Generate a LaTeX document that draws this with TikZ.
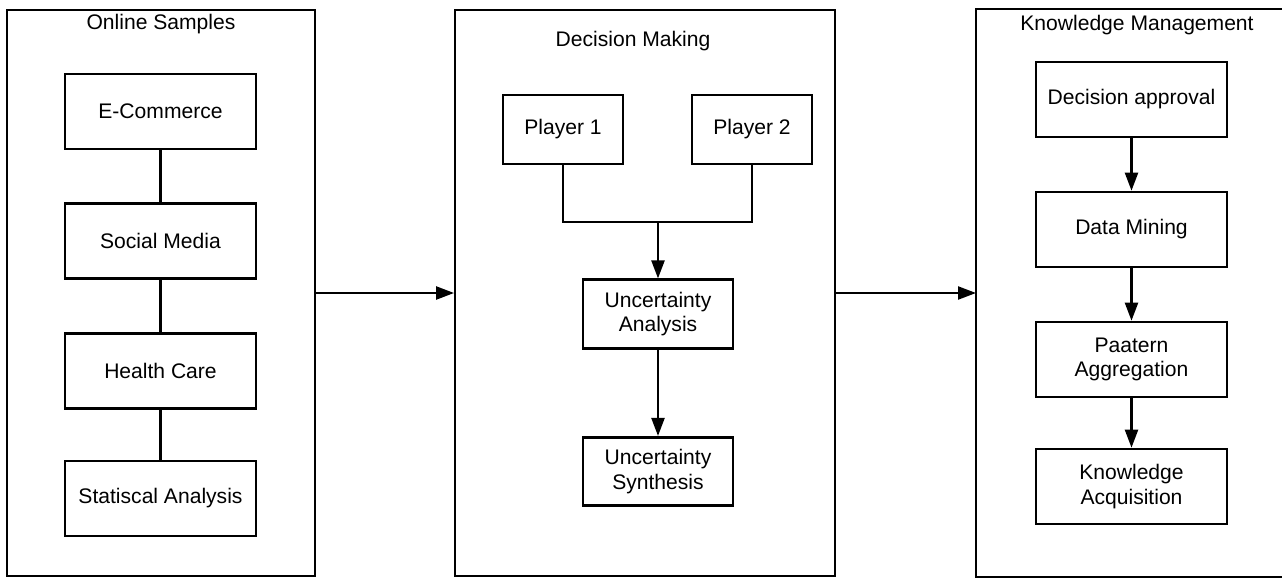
\documentclass[tikz,border=0pt]{standalone}
\usepackage{fontspec}
\setmainfont{Liberation Sans}
\usetikzlibrary{arrows.meta}
\begin{document}
\begin{tikzpicture}[x=0.02cm,y=-0.02cm,
  every node/.style={font=\fontsize{12}{13.8}\selectfont},
  container/.style={draw, line width=1.1pt},
  box/.style={draw, line width=1.5pt, rectangle, align=center, inner sep=0pt},
  wide/.style={box, minimum width=3.82cm, minimum height=1.5cm},
  small/.style={box, minimum width=2.4cm, minimum height=1.38cm},
  mid/.style={box, minimum width=3.0cm, minimum height=1.37cm},
  link/.style={line width=1.2pt},
  arr/.style={line width=1.3pt, -{Triangle[length=0.36cm,width=0.26cm]}},
  title/.style={inner sep=0pt}
]
\useasboundingbox (0,0) rectangle (1282,578);
% containers
\node[container, minimum width=6.16cm, minimum height=11.32cm, inner sep=0pt] (c1) at (161,293) {};
\node[container, minimum width=7.6cm, minimum height=11.32cm, inner sep=0pt] (c2) at (645,293) {};
\draw[container] (1295,9) -- (976,9) -- (976,577) -- (1295,577);
\coordinate (c3w) at (976,293);
% titles
\node[title] (t1) at (161,24) {Online Samples};
\node[title] (t2) at (633,41) {Decision Making};
\node[title] (t3) at (1137,25) {Knowledge Management};
% left column
\node[wide] (ec) at (160.5,111.5) {E-Commerce};
\node[wide] (sm) at (160.5,241) {Social Media};
\node[wide] (hc) at (160.5,371) {Health Care};
\node[wide] (sa) at (160.5,498.5) {Statiscal Analysis};
\draw[link] (ec) -- (sm);
\draw[link] (sm) -- (hc);
\draw[link] (hc) -- (sa);
% middle column
\node[small] (p1) at (563,129.5) {Player 1};
\node[small] (p2) at (752,129.5) {Player 2};
\node[mid] (ua) at (658,314) {Uncertainty\\Analysis};
\node[mid] (us) at (658,471.5) {Uncertainty\\Synthesis};
\coordinate (j) at (658,222);
\draw[link] (p1.south) |- (j) -| (p2.south);
\draw[arr] (j) -- (ua.north);
\draw[arr] (ua) -- (us);
% right column
\node[wide] (da) at (1131.5,99.5) {Decision approval};
\node[wide] (dm) at (1131.5,229.5) {Data Mining};
\node[wide] (pa) at (1131.5,359.5) {Paatern\\Aggregation};
\node[wide] (ka) at (1131.5,486.5) {Knowledge\\Acquisition};
\draw[arr] (da) -- (dm);
\draw[arr] (dm) -- (pa);
\draw[arr] (pa) -- (ka);
% between containers
\draw[arr] (c1.east) -- (c2.west);
\draw[arr] (c2.east) -- (c3w);
\end{tikzpicture}
\end{document}
